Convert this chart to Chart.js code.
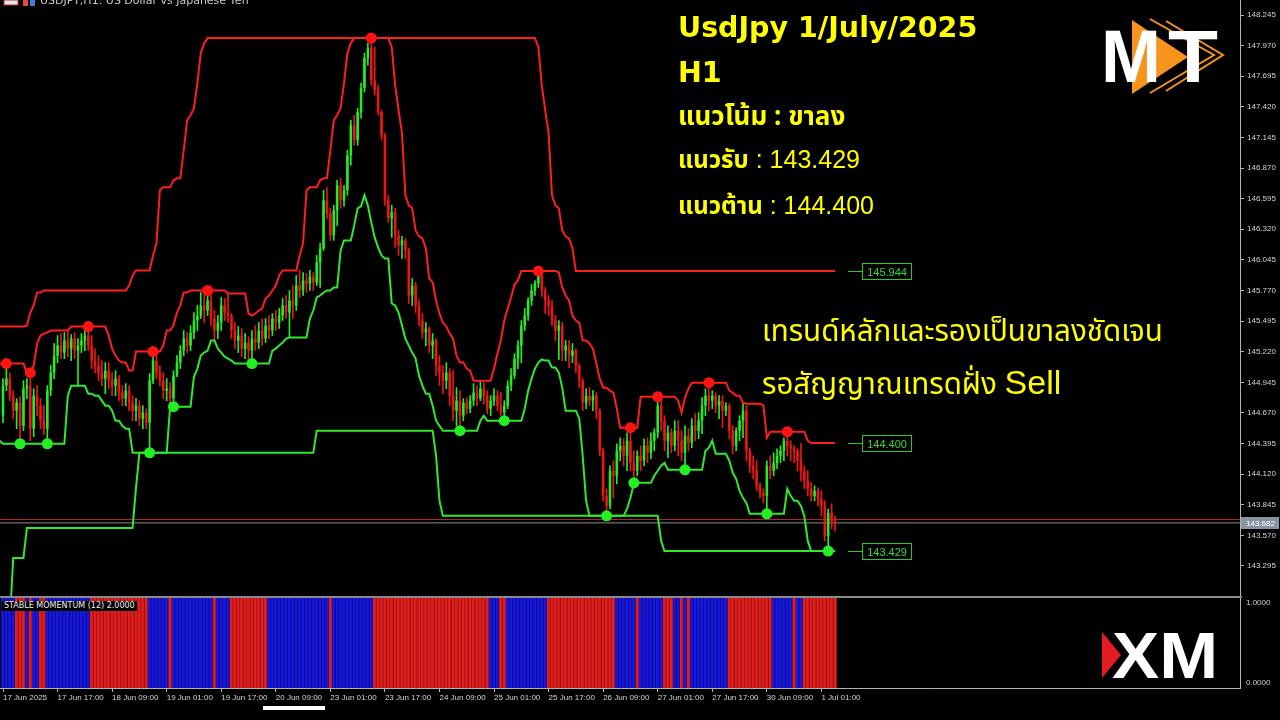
<!DOCTYPE html>
<html><head><meta charset="utf-8">
<script src="https://cdn.jsdelivr.net/npm/chart.js@4.4.1/dist/chart.umd.min.js"></script>
<style>
html,body{margin:0;padding:0;background:#000;width:1280px;height:720px;overflow:hidden;position:relative;font-family:"Liberation Sans",Arial,sans-serif;}
canvas{position:absolute;left:0;}
#main{top:0;}
#sub{top:598px;}
.sep{position:absolute;left:0;top:596px;width:1242px;height:2px;background:#8a8a8a;}
.ann{position:absolute;color:#ffff00;white-space:nowrap;line-height:1;font-family:"Liberation Sans","Noto Sans Thai","Noto Sans",sans-serif;}
.ttl{font-family:"DejaVu Sans",sans-serif;font-weight:bold;}
.thai{font-family:"Noto Sans Thai","Noto Sans","DejaVu Sans",sans-serif;}
.small{position:absolute;color:#d0d0d0;font-size:8px;line-height:1;white-space:nowrap;font-family:"Liberation Sans",Arial,sans-serif;}
#hdr{position:absolute;left:40px;top:-6px;font-size:11px;color:#c8c8c8;white-space:nowrap;font-family:"DejaVu Sans",sans-serif;}
#ind{position:absolute;left:2px;top:601px;font-size:8px;line-height:10px;color:#f0f0f0;background:#000;padding:0 2px;white-space:nowrap;font-family:"DejaVu Sans",sans-serif;}
svg{position:absolute;left:0;top:0;pointer-events:none;}
</style></head><body>
<canvas id="main" width="1280" height="596"></canvas>
<div class="sep"></div>
<canvas id="sub" width="1280" height="122"></canvas>

<div id="hdr">USDJPY,H1: US Dollar vs Japanese Yen</div>
<div id="ind">STABLE MOMENTUM (12) 2.0000</div>
<div class="small" style="left:1246px;top:599px;">1.0000</div>
<div class="small" style="left:1246px;top:679px;">0.0000</div>

<div class="ann ttl" style="left:678px;top:14px;font-size:28.5px;">UsdJpy 1/July/2025</div>
<div class="ann ttl" style="left:678px;top:59px;font-size:28.5px;">H1</div>
<div class="ann thai" style="left:678px;top:104px;font-size:26px;font-weight:bold;">แนวโน้ม : ขาลง</div>
<div class="ann" style="left:678px;top:147px;font-size:25px;"><b class="thai" style="font-size:24px;">แนวรับ</b> : 143.429</div>
<div class="ann" style="left:678px;top:193px;font-size:25px;"><b class="thai" style="font-size:24px;">แนวต้าน</b> : 144.400</div>
<div class="ann thai" style="left:762px;top:318px;font-size:29.5px;">เทรนด์หลักและรองเป็นขาลงชัดเจน</div>
<div class="ann thai" style="left:762px;top:365px;font-size:29.5px;">รอสัญญาณเทรดฝั่ง <span style="font-size:34px;font-family:'Liberation Sans',Arial,sans-serif;">Sell</span></div>

<svg width="1280" height="720" viewBox="0 0 1280 720">
  <rect x="4" y="0" width="14" height="5" fill="#dfe6f2" stroke="#c03030" stroke-width="1"/>
  <rect x="23" y="0" width="5" height="6" fill="#e04848"/>
  <rect x="30" y="0" width="5" height="6" fill="#4a78d8"/>
  <polygon points="1132,20 1132,94 1188,57" fill="#f7941d"/>
  <polyline points="1150,19 1214,55 1150,93" fill="none" stroke="#f7941d" stroke-width="2"/>
  <polyline points="1166,21 1223,55 1166,91" fill="none" stroke="#f7941d" stroke-width="2"/>
  <text x="1101" y="82" font-family="Liberation Sans, Arial, sans-serif" font-weight="bold" font-size="75" fill="#ffffff" textLength="60" lengthAdjust="spacingAndGlyphs">M</text>
  <text x="1168" y="82" font-family="Liberation Sans, Arial, sans-serif" font-weight="bold" font-size="75" fill="#ffffff" textLength="50" lengthAdjust="spacingAndGlyphs">T</text>
  <polygon points="1102,632 1102,678 1121,655" fill="#e31b23"/>
  <text x="1112" y="678" font-family="Liberation Sans, Arial, sans-serif" font-weight="bold" font-size="64" fill="#ffffff" textLength="106" lengthAdjust="spacingAndGlyphs">XM</text>
  <rect x="263" y="706" width="62" height="4" fill="#ffffff"/>
</svg>

<script>
// ---------------- DATA ----------------
const open = [144.645,144.915,144.978,144.825,144.690,144.762,144.555,144.888,144.915,144.528,
144.825,144.735,144.600,144.528,144.870,145.032,145.185,145.275,145.212,145.320,
145.248,145.338,145.230,145.275,145.320,145.365,145.275,145.140,145.095,145.032,
144.978,145.050,144.960,144.915,144.978,144.852,144.798,144.870,144.762,144.690,
144.735,144.618,144.672,144.582,144.960,145.140,145.032,144.960,144.870,144.888,
144.798,145.005,145.122,145.230,145.338,145.275,145.392,145.500,145.545,145.635,
145.590,145.680,145.518,145.410,145.482,145.635,145.572,145.545,145.410,145.320,
145.365,145.248,145.302,145.230,145.338,145.302,145.410,145.338,145.455,145.410,
145.518,145.482,145.545,145.635,145.572,145.680,145.635,145.815,145.770,145.860,
145.833,145.896,145.842,146.022,146.148,146.580,146.463,146.265,146.490,146.715,
146.580,146.670,146.985,147.255,147.120,147.372,147.588,147.858,147.948,147.660,
147.570,147.372,147.165,146.580,146.418,146.472,146.265,146.175,146.220,146.130,
145.725,145.815,145.635,145.500,145.392,145.428,145.275,145.320,145.095,145.032,
144.960,145.032,144.825,144.690,144.780,144.645,144.762,144.708,144.780,144.852,
144.798,144.888,144.825,144.708,144.780,144.825,144.735,144.672,144.735,144.915,
145.005,145.158,145.275,145.455,145.545,145.680,145.770,145.833,145.905,145.770,
145.680,145.635,145.500,145.410,145.455,145.230,145.275,145.185,145.230,145.095,
144.960,144.762,144.825,144.780,144.825,144.690,144.330,143.925,143.835,144.150,
144.105,144.330,144.375,144.285,144.420,144.222,144.150,144.285,144.240,144.375,
144.312,144.420,144.492,144.735,144.600,144.420,144.492,144.375,144.510,144.420,
144.312,144.465,144.402,144.555,144.510,144.600,144.735,144.825,144.780,144.825,
144.735,144.780,144.690,144.735,144.510,144.375,144.510,144.600,144.690,144.330,
144.195,144.150,144.015,143.952,143.925,144.195,144.150,144.222,144.285,144.330,
144.420,144.375,144.348,144.330,144.240,144.150,144.060,143.988,143.925,143.970,
143.898,143.835,143.565,143.772,143.700];

const high = [144.978,145.113,145.032,144.870,144.798,144.816,144.960,144.978,145.032,144.888,
144.915,144.798,144.735,144.915,145.095,145.293,145.365,145.383,145.392,145.410,
145.374,145.392,145.338,145.383,145.410,145.446,145.365,145.248,145.185,145.140,
145.122,145.122,145.032,145.050,145.005,144.915,144.933,144.915,144.825,144.798,
144.780,144.735,144.708,145.023,145.221,145.185,145.095,145.032,144.978,144.942,
145.050,145.185,145.275,145.410,145.392,145.455,145.572,145.635,145.752,145.725,
145.770,145.725,145.590,145.545,145.707,145.698,145.743,145.563,145.482,145.446,
145.428,145.383,145.356,145.410,145.455,145.482,145.518,145.518,145.545,145.563,
145.590,145.608,145.698,145.725,145.770,145.815,145.905,145.950,145.932,145.923,
145.950,145.932,146.085,146.193,146.670,146.697,146.508,146.535,146.760,146.778,
146.715,147.030,147.300,147.345,147.408,147.633,147.903,147.993,148.038,147.957,
147.615,147.390,147.183,146.625,146.535,146.508,146.310,146.256,146.238,146.148,
145.878,145.842,145.680,145.563,145.482,145.446,145.383,145.338,145.185,145.095,
145.122,145.068,145.050,144.897,144.870,144.798,144.807,144.825,144.933,144.915,
144.960,144.942,144.870,144.825,144.888,144.870,144.852,144.780,144.960,145.068,
145.203,145.320,145.500,145.608,145.707,145.824,145.860,145.944,145.932,145.797,
145.725,145.680,145.545,145.500,145.482,145.320,145.320,145.293,145.248,145.113,
144.978,144.888,144.897,144.870,144.852,144.708,144.357,143.988,144.195,144.240,
144.393,144.447,144.438,144.492,144.537,144.330,144.330,144.375,144.438,144.447,
144.492,144.528,144.816,144.780,144.645,144.555,144.528,144.600,144.600,144.510,
144.555,144.528,144.618,144.663,144.672,144.807,144.888,144.942,144.870,144.852,
144.825,144.825,144.762,144.753,144.555,144.537,144.645,144.753,144.735,144.357,
144.285,144.240,144.042,143.988,144.240,144.285,144.312,144.348,144.375,144.447,
144.501,144.420,144.375,144.348,144.400,144.195,144.150,144.042,144.015,143.997,
143.970,143.880,143.808,143.853,143.745];

const low = [144.582,144.870,144.780,144.618,144.528,144.393,144.510,144.798,144.420,144.456,
144.645,144.528,144.474,144.393,144.825,144.978,145.122,145.158,145.158,145.176,
145.140,145.158,144.915,145.212,145.230,145.230,145.068,145.032,144.960,144.915,
144.843,144.888,144.825,144.825,144.780,144.735,144.735,144.690,144.600,144.600,
144.555,144.528,144.528,144.312,144.933,144.978,144.915,144.798,144.780,144.753,
144.726,144.996,145.068,145.185,145.212,145.230,145.338,145.410,145.518,145.482,
145.545,145.455,145.320,145.338,145.410,145.500,145.482,145.338,145.248,145.212,
145.176,145.158,145.140,145.113,145.230,145.248,145.275,145.302,145.338,145.365,
145.410,145.428,145.500,145.518,145.347,145.518,145.590,145.707,145.725,145.752,
145.770,145.770,145.815,145.797,146.130,146.418,146.220,146.220,146.355,146.508,
146.526,146.625,146.895,147.075,147.075,147.318,147.552,147.795,147.615,147.525,
147.345,147.120,146.535,146.382,146.247,146.157,146.085,146.058,146.058,145.653,
145.635,145.572,145.455,145.338,145.275,145.212,145.158,145.005,144.915,144.843,
144.888,144.735,144.600,144.555,144.510,144.600,144.663,144.672,144.735,144.735,
144.780,144.753,144.663,144.645,144.735,144.690,144.645,144.600,144.708,144.870,
144.978,145.068,145.122,145.410,145.500,145.635,145.725,145.797,145.716,145.563,
145.545,145.455,145.320,145.150,145.140,145.140,145.077,145.122,145.032,144.897,
144.690,144.708,144.735,144.690,144.618,144.285,143.880,143.745,143.808,143.907,
144.033,144.240,144.195,144.150,144.150,144.042,144.105,144.150,144.195,144.222,
144.258,144.330,144.447,144.510,144.330,144.267,144.312,144.330,144.285,144.240,
144.159,144.330,144.357,144.420,144.438,144.483,144.645,144.690,144.708,144.672,
144.618,144.537,144.645,144.438,144.303,144.330,144.420,144.447,144.240,144.132,
144.078,143.970,143.907,143.862,143.763,144.078,144.105,144.168,144.222,144.240,
144.285,144.240,144.222,144.150,144.060,143.988,143.925,143.880,143.880,143.835,
143.745,143.520,143.429,143.628,143.610];

const close = [144.915,144.978,144.825,144.690,144.762,144.555,144.888,144.915,144.528,144.825,
144.735,144.600,144.528,144.870,145.032,145.185,145.275,145.212,145.320,145.248,
145.338,145.230,145.275,145.320,145.365,145.275,145.140,145.095,145.032,144.978,
145.050,144.960,144.915,144.978,144.852,144.798,144.870,144.762,144.690,144.735,
144.618,144.672,144.582,144.960,145.140,145.032,144.960,144.870,144.888,144.798,
145.005,145.122,145.230,145.338,145.275,145.392,145.500,145.545,145.635,145.590,
145.680,145.518,145.410,145.482,145.635,145.572,145.545,145.410,145.320,145.365,
145.248,145.302,145.230,145.338,145.302,145.410,145.338,145.455,145.410,145.518,
145.482,145.545,145.635,145.572,145.680,145.635,145.815,145.770,145.860,145.833,
145.896,145.842,146.022,146.148,146.580,146.463,146.265,146.490,146.715,146.580,
146.670,146.985,147.255,147.120,147.372,147.588,147.858,147.948,147.660,147.570,
147.372,147.165,146.580,146.418,146.472,146.265,146.175,146.220,146.130,145.725,
145.815,145.635,145.500,145.392,145.428,145.275,145.320,145.095,145.032,144.960,
145.032,144.825,144.690,144.780,144.645,144.762,144.708,144.780,144.852,144.798,
144.888,144.825,144.708,144.780,144.825,144.735,144.672,144.735,144.915,145.005,
145.158,145.275,145.455,145.545,145.680,145.770,145.833,145.905,145.770,145.680,
145.635,145.500,145.410,145.455,145.230,145.275,145.185,145.230,145.095,144.960,
144.762,144.825,144.780,144.825,144.690,144.330,143.925,143.835,144.150,144.105,
144.330,144.375,144.285,144.420,144.222,144.150,144.285,144.240,144.375,144.312,
144.420,144.492,144.735,144.600,144.420,144.492,144.375,144.510,144.420,144.312,
144.465,144.402,144.555,144.510,144.600,144.735,144.825,144.780,144.825,144.735,
144.780,144.690,144.735,144.510,144.375,144.510,144.600,144.690,144.330,144.195,
144.150,144.015,143.952,143.925,144.195,144.150,144.222,144.285,144.330,144.420,
144.375,144.348,144.330,144.240,144.150,144.060,143.988,143.925,143.970,143.898,
143.835,143.565,143.772,143.700,143.682];

// 48 H1 bars before the first visible bar (off-screen history used by the channel indicator)
const historyLow = [142.800,142.800,142.800,143.367,143.367,143.367,143.367,
143.637,143.637,143.637,143.637,143.637,143.637,143.637,143.637,143.637,143.637,143.637,143.637,143.637,143.637,143.637,143.637,
143.637,143.637,143.637,143.637,143.637,143.637,143.637,143.637,143.637,143.637,143.637,143.637,143.637,143.637,143.637,143.637,
143.997,144.420,144.420,144.420,144.420,144.420,144.420,144.420,144.420];
const historyHigh = [143.050,143.050,143.050,143.620,143.620,143.620,143.620,
143.890,143.890,143.890,143.890,143.890,143.890,143.890,143.890,143.890,143.890,143.890,143.890,143.890,143.890,143.890,143.890,
143.890,143.890,143.890,143.890,143.890,143.890,143.890,143.890,143.890,143.890,143.890,143.890,143.890,143.890,143.890,143.890,
144.250,144.670,144.670,144.670,144.670,144.670,144.670,144.670,144.670];

const redDotBars = [1, 8, 25, 44, 60, 108, 157, 184, 192, 207, 230];
const greenDotBars = [5, 13, 43, 50, 73, 134, 147, 177, 185, 200, 224, 242];

const bidPrice = 143.682;
const askPrice = 143.712;

const priceTicks = [148.245,147.970,147.695,147.420,147.145,146.870,146.595,146.320,146.045,
145.770,145.495,145.220,144.945,144.670,144.395,144.120,143.845,143.570,143.295];

const dateTickBars = [0,16,32,48,64,80,96,112,128,144,160,176,192,208,224,240];
const dateLabels = ['17 Jun 2025','17 Jun 17:00','18 Jun 09:00','19 Jun 01:00','19 Jun 17:00','20 Jun 09:00',
'23 Jun 01:00','23 Jun 17:00','24 Jun 09:00','25 Jun 01:00','25 Jun 17:00','26 Jun 09:00',
'27 Jun 01:00','27 Jun 17:00','30 Jun 09:00','1 Jul 01:00'];

// STABLE MOMENTUM: bar ranges with downward momentum (red); all other bars are up (blue)
const momentumDownRuns = [[4,6],[8,8],[11,12],[26,42],[49,49],[62,62],[67,77],[96,96],[109,142],
[146,147],[160,179],[186,186],[194,196],[199,199],[201,201],[213,225],[232,232],[235,244]];

const OUTER_RADIUS = 48, INNER_RADIUS = 5;

// ---------------- BUILD ----------------
const N = close.length;
const X_MIN = -0.88, X_MAX = 362.76;
const FONT = "'Liberation Sans', Arial, sans-serif";
Chart.defaults.font.family = FONT;

const allH = historyHigh.concat(high), allL = historyLow.concat(low), OFF = historyHigh.length;
function channel(arr, r, isMax) {
  const out = [];
  for (let i = -1; i < N; i++) {
    let a = i - r, b = i + r;
    if (b > N - 1) { b = N - 1; a = N - 1 - 2 * r; }
    if (a < -OFF) a = -OFF;
    let v = arr[a + OFF];
    for (let k = a; k <= b; k++) { const w = arr[k + OFF]; v = isMax ? Math.max(v, w) : Math.min(v, w); }
    out.push({x: i, y: v});
  }
  return out;
}
const outerUp = channel(allH, OUTER_RADIUS, true);
const innerUp = channel(allH, INNER_RADIUS, true);
const outerDn = channel(allL, OUTER_RADIUS, false);
const innerDn = channel(allL, INNER_RADIUS, false);
const lastOf = ds => ds[ds.length - 1].y;

const BULL = '#22ee22', BEAR = '#f01414';
const bodies = [], wicks = [], colors = [];
for (let i = 0; i < N; i++) {
  bodies.push({x: i, y: [open[i], close[i]]});
  wicks.push({x: i, y: [low[i], high[i]]});
  colors.push(close[i] >= open[i] ? BULL : BEAR);
}
const redDots = redDotBars.map(i => ({x: i, y: high[i]}));
const greenDots = greenDotBars.map(i => ({x: i, y: low[i]}));

const RED_LINE = '#ff1e1e', GREEN_LINE = '#30e830';
function lineDs(data, color, order) {
  return {type: 'line', data, borderColor: color, borderWidth: 2, pointRadius: 0, tension: 0, fill: false, order};
}

const levelBoxes = {
  id: 'levelBoxes',
  afterDraw(chart) {
    const {ctx, scales: {x, y}, chartArea} = chart;
    const xl = x.getPixelForValue(N - 1);
    ctx.save();
    ctx.font = "11px " + FONT;
    ctx.textAlign = 'center'; ctx.textBaseline = 'middle';
    [outerUp, innerUp, innerDn].forEach(ds => {
      const v = lastOf(ds);
      const py = Math.round(y.getPixelForValue(v)) + 0.5;
      ctx.strokeStyle = '#2ec82e'; ctx.lineWidth = 1;
      ctx.beginPath(); ctx.moveTo(xl + 13, py); ctx.lineTo(xl + 27, py); ctx.stroke();
      ctx.fillStyle = '#000'; ctx.fillRect(xl + 27, py - 8, 50, 16);
      ctx.strokeRect(xl + 27.5, py - 8, 49, 16);
      ctx.fillStyle = '#3ad63a'; ctx.fillText(v.toFixed(3), xl + 52, py + 1);
    });
    // current price tag on the axis
    const by = Math.round(y.getPixelForValue(bidPrice));
    const ay = Math.round(y.getPixelForValue(askPrice));
    ctx.fillStyle = '#d02020'; ctx.fillRect(chartArea.right + 1, ay - 1, 38, 2);
    ctx.fillStyle = '#8894a2'; ctx.fillRect(chartArea.right + 1, by - 6, 38, 12);
    ctx.fillStyle = '#ffffff'; ctx.font = "8px " + FONT; ctx.textAlign = 'left';
    ctx.fillText(bidPrice.toFixed(3), chartArea.right + 6, by + 0.5);
    ctx.restore();
  }
};

new Chart(document.getElementById('main'), {
  type: 'bar',
  data: {
    datasets: [
      {type: 'line', data: redDots, showLine: false, pointRadius: 5.5, pointBackgroundColor: '#ff1212', pointBorderWidth: 0, order: 0},
      {type: 'line', data: greenDots, showLine: false, pointRadius: 5.5, pointBackgroundColor: '#22f022', pointBorderWidth: 0, order: 0},
      lineDs(outerUp, RED_LINE, 1), lineDs(innerUp, RED_LINE, 1),
      lineDs(outerDn, GREEN_LINE, 1), lineDs(innerDn, GREEN_LINE, 1),
      {type: 'line', data: [{x: X_MIN, y: askPrice}, {x: X_MAX, y: askPrice}], borderColor: '#b02828', borderWidth: 1, pointRadius: 0, order: 3},
      {type: 'line', data: [{x: X_MIN, y: bidPrice}, {x: X_MAX, y: bidPrice}], borderColor: '#8a8a8a', borderWidth: 1, pointRadius: 0, order: 3},
      {data: wicks, backgroundColor: colors, barThickness: 1, grouped: false, order: 2},
      {data: bodies, backgroundColor: colors, barPercentage: 0.75, categoryPercentage: 1, grouped: false, order: 2}
    ]
  },
  options: {
    responsive: false, animation: false, devicePixelRatio: 1,
    layout: {padding: 0, autoPadding: false},
    plugins: {legend: {display: false}, tooltip: {enabled: false}},
    scales: {
      x: {type: 'linear', min: X_MIN, max: X_MAX, offset: false, display: false},
      y: {
        position: 'right', min: 143.025, max: 148.380,
        grid: {drawOnChartArea: false, drawTicks: true, tickLength: 4, color: '#b4b4b4'},
        border: {color: '#b4b4b4'},
        ticks: {color: '#d4d4d4', font: {size: 8}, padding: 3, autoSkip: false, callback: v => Number(v).toFixed(3)},
        afterBuildTicks: s => { s.ticks = priceTicks.map(v => ({value: v})); },
        afterFit: s => { s.width = 40; s.paddingTop = 0; s.paddingBottom = 0; }
      }
    }
  },
  plugins: [levelBoxes]
});

const momColors = [], momBorders = [], momData = [];
for (let i = 0; i < N; i++) {
  const down = momentumDownRuns.some(r => i >= r[0] && i <= r[1]);
  momColors.push(down ? '#e41c1c' : '#1818dc');
  momBorders.push(down ? '#8c1818' : '#08088c');
  momData.push({x: i, y: 1});
}

new Chart(document.getElementById('sub'), {
  type: 'bar',
  data: {datasets: [{data: momData, backgroundColor: momColors, borderColor: momBorders,
    borderWidth: {left: 0, right: 1, top: 0, bottom: 0}, borderSkipped: false,
    barPercentage: 1, categoryPercentage: 1, grouped: false}]},
  options: {
    responsive: false, animation: false, devicePixelRatio: 1,
    layout: {padding: 0, autoPadding: false},
    plugins: {legend: {display: false}, tooltip: {enabled: false}},
    scales: {
      x: {
        type: 'linear', min: X_MIN, max: X_MAX, offset: false,
        grid: {drawOnChartArea: false, offset: false, tickLength: 4, color: '#b4b4b4'},
        border: {color: '#b4b4b4'},
        ticks: {align: 'start', color: '#d4d4d4', font: {size: 8}, padding: 1, autoSkip: false, maxRotation: 0,
          callback: v => dateLabels[dateTickBars.indexOf(v)] || ''},
        afterBuildTicks: s => { s.ticks = dateTickBars.map(v => ({value: v})); },
        afterFit: s => { s.height = 32; s.paddingLeft = 0; s.paddingRight = 0; }
      },
      y: {
        position: 'right', min: 0, max: 1,
        grid: {display: false}, border: {color: '#b4b4b4'}, ticks: {display: false},
        afterFit: s => { s.width = 40; s.paddingTop = 0; s.paddingBottom = 0; }
      }
    }
  }
});
</script>
</body></html>
